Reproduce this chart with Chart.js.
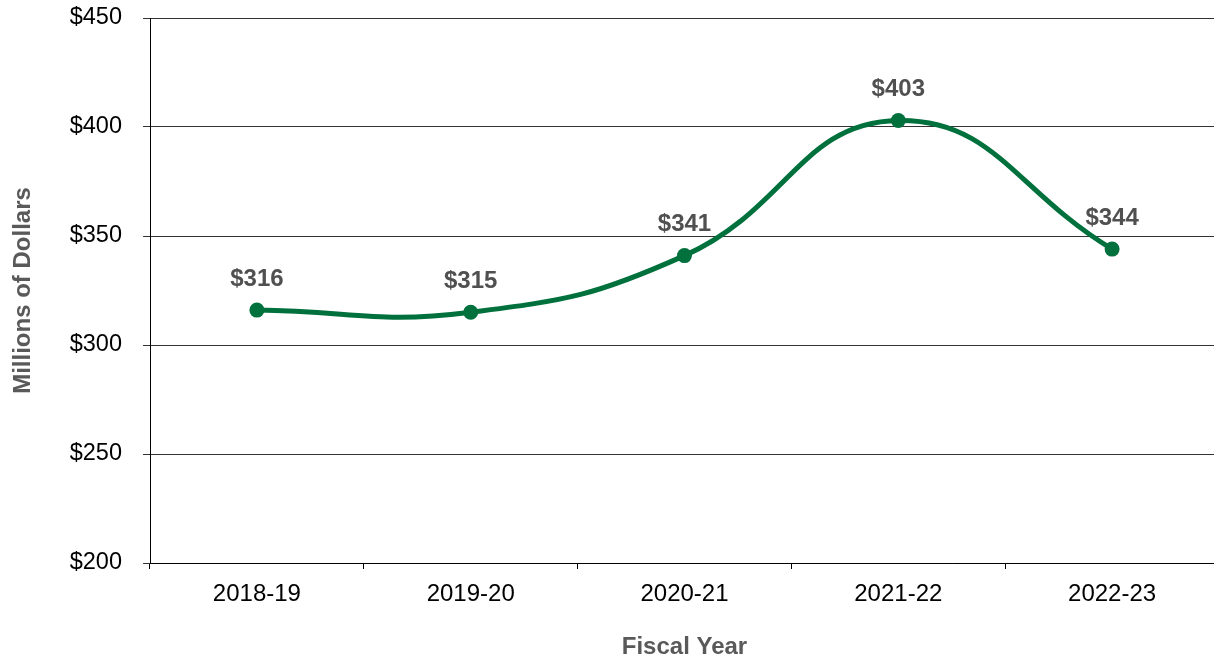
<!DOCTYPE html>
<html>
<head>
<meta charset="utf-8">
<script src="https://cdn.jsdelivr.net/npm/chart.js@4.4.1/dist/chart.umd.min.js"></script>
<style>
  html, body { margin: 0; padding: 0; background: #ffffff; overflow: hidden; }
  canvas { display: block; }
</style>
</head>
<body>
<!-- plot runs a few px past the window's right edge, as in the original -->
<canvas id="chart" width="1220" height="658"></canvas>
<script>
// Chart data
const fiscalYears = ["2018-19", "2019-20", "2020-21", "2021-22", "2022-23"];
const spending = [316, 315, 341, 403, 344];
const yTicks = [200, 250, 300, 350, 400, 450];

const green = "#00703C";
const labelGray = "#505050";
const fontFamily = "'Liberation Sans', Arial, sans-serif";

// Draw "$xxx" labels above each point
const valueLabels = {
    id: "valueLabels",
    afterDatasetsDraw(c) {
        const { ctx } = c;
        const meta = c.getDatasetMeta(0);
        ctx.save();
        ctx.font = `bold 24px ${fontFamily}`;
        ctx.fillStyle = labelGray;
        ctx.textAlign = "center";
        ctx.textBaseline = "middle";
        meta.data.forEach((pt, i) => {
            ctx.fillText(`$${spending[i]}`, pt.x, pt.y - 31);
        });
        ctx.restore();
    },
};

const ctx = document.getElementById("chart");
// eslint-disable-next-line no-unused-vars
const chart = new Chart(ctx, {
    type: "line",
    data: {
        labels: fiscalYears,
        datasets: [
            {
                label: "Millions of Dollars",
                data: spending,
                borderColor: green,
                backgroundColor: green,
                borderWidth: 5,
                pointRadius: 7.5,
                pointBackgroundColor: green,
                pointBorderColor: green,
                pointBorderWidth: 0,
                tension: 0.45,
                fill: false,
            },
        ],
    },
    options: {
        responsive: false,
        animation: false,
        devicePixelRatio: 1,
        layout: {
            autoPadding: false,
            padding: { top: 18, right: 1, bottom: 0, left: 9 },
        },
        plugins: {
            legend: { display: false },
            tooltip: { enabled: false },
        },
        scales: {
            x: {
                offset: true,
                afterFit(axis) {
                    axis.height = 95;
                    axis.paddingLeft = 0;
                    axis.paddingRight = 0;
                },
                border: { color: "#000000", width: 1 },
                grid: {
                    offset: true,
                    drawOnChartArea: false,
                    color: "#000000",
                    tickLength: 6,
                },
                ticks: {
                    color: "#000000",
                    padding: 11,
                    font: { family: fontFamily, size: 24 },
                },
                title: {
                    display: true,
                    text: "Fiscal Year",
                    color: "#595959",
                    font: { family: fontFamily, size: 24, weight: "bold" },
                    padding: { top: 0, bottom: -4 },
                },
            },
            y: {
                min: 200,
                max: 450,
                afterBuildTicks(axis) {
                    axis.ticks = yTicks.map((v) => ({ value: v }));
                },
                afterFit(axis) {
                    axis.width = 141;
                    axis.paddingTop = 0;
                    axis.paddingBottom = 0;
                },
                border: { color: "#000000", width: 1 },
                grid: {
                    color: "#333333",
                    lineWidth: 1,
                    tickLength: 7,
                },
                ticks: {
                    color: "#000000",
                    padding: 21,
                    font: { family: fontFamily, size: 23.5 },
                    callback: (v) => `$${v}`,
                },
                title: {
                    display: true,
                    text: "Millions of Dollars",
                    color: "#595959",
                    font: { family: fontFamily, size: 24, weight: "bold" },
                    padding: { top: 0, bottom: 0 },
                },
            },
        },
    },
    plugins: [valueLabels],
});
</script>
</body>
</html>
